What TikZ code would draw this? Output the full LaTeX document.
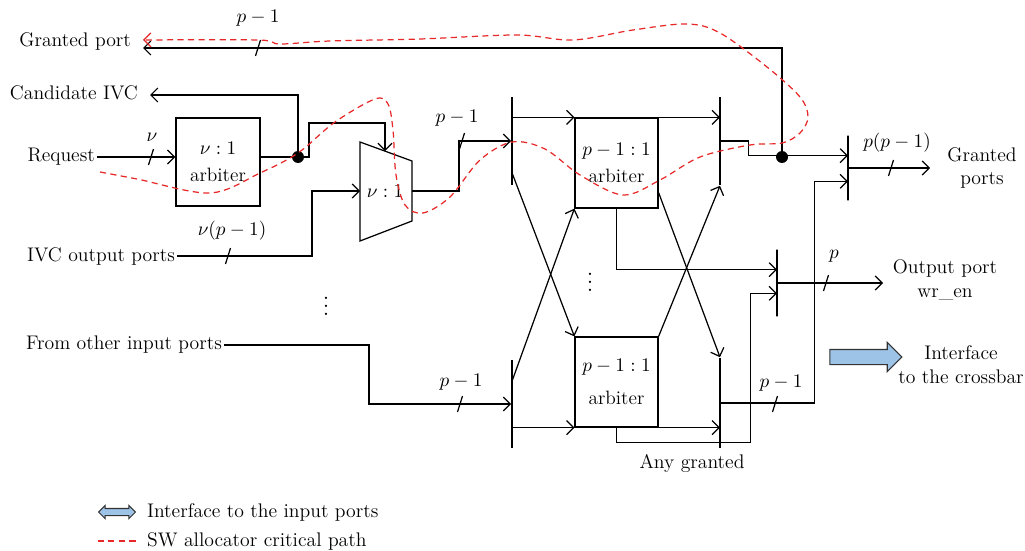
\documentclass[tikz,border=0pt]{standalone}
\usetikzlibrary{arrows.meta,calc,shapes.arrows}
\definecolor{ifaceblue}{RGB}{157,195,230}
\definecolor{critred}{RGB}{232,40,40}
\begin{document}
\begin{tikzpicture}[
    x=0.02cm, y=-0.02cm,
    >={Straight Barb[length=4pt,width=8pt]},
    % Styles
    wire/.style={line width=0.7pt},
    txt/.style={font=\fontsize{11.2}{13.5}\selectfont, align=center, inner sep=1pt},
    arbiter/.style={
      rectangle,
      draw=black,
      line width=0.7pt,
      minimum width=1.66cm,
      minimum height=1.8cm,
      align=center,
      font=\fontsize{11}{15}\selectfont,
    },
    bar/.style={draw, line width=0.9pt, minimum width=0pt, inner sep=0pt},
    junction/.style={circle, fill=black, inner sep=0pt, minimum size=0.24cm},
    critical/.style={critred, dash pattern=on 3.5pt off 2.5pt, line width=0.7pt},
    bigarrow/.style={single arrow, draw=black!80, fill=ifaceblue, line width=0.6pt,
      minimum height=1.44cm, inner sep=0.14cm, single arrow head extend=0.14cm},
    legarrow/.style={double arrow, draw=black!80, fill=ifaceblue, line width=0.6pt,
      minimum height=0.74cm, inner sep=0.06cm, double arrow head extend=0.06cm},
    slash/.pic={\draw[wire] (-2.5,8) -- (2.5,-8);},
  ]
  \useasboundingbox (0,0) rectangle (1025,551);

  % left side labels
  \node[txt, anchor=east] (gport) at (133,41) {Granted port};
  \node[txt, anchor=east] (cand) at (140,93) {Candidate IVC};
  \node[txt, anchor=east] (req) at (97,157) {Request};
  \node[txt, anchor=east] (ivc) at (177,256) {IVC output ports};
  \node[txt, anchor=east] (other) at (224,345) {From other input ports};
  \coordinate (gptip) at (143,48);
  \coordinate (candtip) at (150,95);

  % VC allocation stage
  \node[arbiter, minimum width=1.68cm, minimum height=1.76cm] (box1) at (218,162) {$\nu:1$\\arbiter};
  \node[junction] (dot1) at (298,157) {};
  \coordinate (m1) at (360,142);
  \coordinate (m2) at (412,161);
  \coordinate (m3) at (412,221);
  \coordinate (m4) at (360,241);
  \draw[wire] (m1) -- (m2) -- (m3) -- (m4) -- cycle;
  \node[txt] (mux) at (385,191) {$\nu:1$};
  \coordinate (muxin) at ($(m1)!0.48!(m2)$);

  \draw[wire,->] (req.east) -- (req.east -| box1.west);
  \pic at (151,157) {slash};
  \node[txt] (nu) at (152,137) {$\nu$};
  \draw[wire] (box1.east |- dot1) -- (dot1);
  \draw[wire,->] (dot1) |- (candtip);
  \draw[wire,->] (dot1) -- ++(11,0) -- ++(0,-34) -| (muxin);
  \draw[wire,->] (ivc.east) -- ++(135,0) |- (mux.center -| m1);
  \pic at (228,256) {slash};
  \node[txt] (nup) at (232,231) {$\nu(p-1)$};
  \node[txt, scale=1.2] (vd1) at (326,300) {$\vdots$};

  % switch allocation stage
  \node[bar, minimum height=1.76cm] (barA) at (512,141) {};
  \node[bar, minimum height=1.76cm] (barB) at (720,141) {};
  \node[bar, minimum height=1.76cm] (barC) at (512,404) {};
  \node[bar, minimum height=1.8cm] (barD) at (720,403) {};
  \node[bar, minimum height=1.34cm] (barE) at (777,283) {};
  \node[bar, minimum height=1.3cm] (barF) at (848,168) {};
  \node[arbiter] (boxT) at (616.5,163) {$p-1:1$\\arbiter};
  \node[arbiter] (boxB) at (616.5,382) {$p-1:1$\\[4pt]arbiter};
  \node[txt, scale=1.2] (vd2) at (590,276) {$\vdots$};

  \draw[wire,->] (mux.center -| m2) -- ++(47,0) |- (barA.west);
  \pic at (462,141) {slash};
  \node[txt] (pm1a) at (457,118) {$p-1$};
  \draw[wire,->] (other.east) -- ++(145,0) |- (barC.west);
  \pic at (460,404) {slash};
  \node[txt] (pm1b) at (461,382) {$p-1$};

  \draw[wire,->] (barA |- boxT.north) -- (boxT.north west);
  \draw[wire,->] (boxT.north west) -- (boxT.north west -| barB);
  \draw[wire,->] (barC |- boxB.south) -- (boxB.south west);
  \draw[wire,->] (boxB.south west) -- (boxB.south west -| barD);
  \draw[wire,->] ($(barA.south)+(0,-13)$) -- (boxB.north west);
  \draw[wire,->] ($(barC.north)+(0,22)$) -- (boxT.south west);
  \draw[wire,->] ($(boxT.south east)+(0,-16)$) -- (barD.north);
  \draw[wire,->] (boxB.north east) -- (barB.south);
  \draw[wire,->] (boxT.south) |- ($(barE.north)+(0,21)$);
  \draw[wire,->] (boxB.south) -- ++(0,15) -- ++(134,0) |- ($(barE.south)+(0,-24)$);

  % outputs
  \node[junction] (gdot) at (782,157) {};
  \coordinate (wrtip) at (883,283);
  \coordinate (gpstip) at (930,168);
  \draw[wire,->] (barB.east) -- ++(28,0) |- ($(barF.north)+(0,21)$);
  \draw[wire,->] (gdot) |- (gptip);
  \pic at (258,48) {slash};
  \node[txt] (pm1c) at (258,18) {$p-1$};
  \draw[wire,->] (barD.east) -- ++(94,0) |- ($(barF.south)+(0,-20)$);
  \pic at (775,404) {slash};
  \node[txt] (pm1d) at (781,383) {$p-1$};
  \draw[wire,->] (barE.east) -- (wrtip);
  \pic at (826,283) {slash};
  \node[txt] (pp) at (834,256) {$p$};
  \draw[wire,->] (barF.east) -- (gpstip);
  \pic at (891,168) {slash};
  \node[txt] (ppm1) at (897,143) {$p(p-1)$};

  \node[txt] (gports) at (982,168) {Granted\\ports};
  \node[txt] (wren) at (945,280) {Output port\\wr\_en};
  \node[txt] (anyg) at (692,463) {Any granted};
  \node[bigarrow] (xbar) at (862,357) {};
  \node[txt] (xbartxt) at (961,365) {Interface\\to the crossbar};

  % critical path
  \draw[critical,->] plot[smooth, tension=0.55] coordinates {
    (100,172) (137,179) (210,193) (260,173) (298,153) (335,122) (375,99)
    (388,104) (393,130) (396,175) (405,205) (423,213) (450,197) (480,160)
    (512,142) (545,149) (580,175) (623,195) (660,180) (700,157) (750,145)
    (782,143) (800,133) (808,117) (800,97) (767,67) (720,33) (687,24)
    (633,30) (573,40) (517,35) (420,39) (330,41) (280,44) (258,40) (143,40)};

  % legend
  \node[legarrow] (legiface) at (117,512) {};
  \node[txt, anchor=west] (legifacetxt) at (145,512) {Interface to the input ports};
  \node[txt, anchor=west] (legcrit) at (145,541) {SW allocator critical path};
  \draw[critical] (legiface.west |- legcrit) -- (legiface.east |- legcrit);
\end{tikzpicture}
\end{document}
